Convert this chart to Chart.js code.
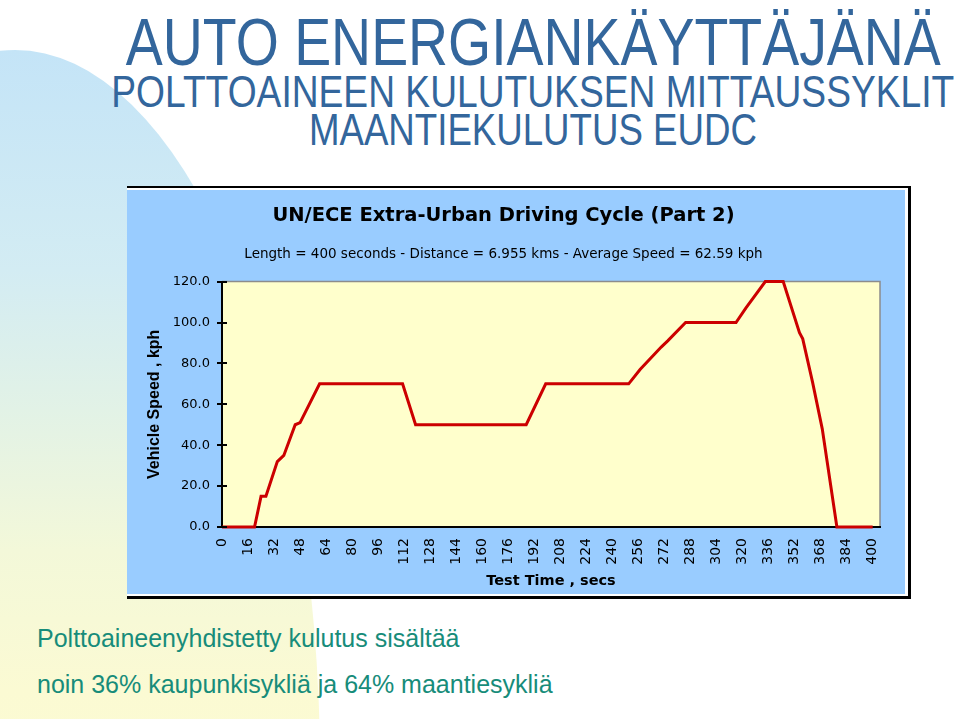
<!DOCTYPE html>
<html>
<head>
<meta charset="utf-8">
<script src="https://cdn.jsdelivr.net/npm/chart.js@4.4.1/dist/chart.umd.min.js"></script>
<style>
  html, body { margin: 0; padding: 0; }
  body { width: 959px; height: 719px; position: relative; overflow: hidden; background: #fff; }
  .blob {
    position: absolute; left: -290px; top: 50px; width: 610px; height: 1436px;
    border-radius: 50%;
    background: linear-gradient(to bottom, #c4e4f7 0px, #d3ecf3 220px, #e2f2e6 360px, #f3f8d9 500px, #fbfad3 640px, #fcfbd2 720px);
  }
  /* wide box centred on x = 533 so long lines do not overflow to one side */
  .head {
    position: absolute; left: -467px; width: 2000px; text-align: center;
    font-family: "Liberation Sans", Arial, sans-serif; color: #33669c;
    line-height: 1; white-space: nowrap;
  }
  .head span { display: inline-block; transform-origin: 50% 50%; }
  .note {
    position: absolute; left: 37px; white-space: nowrap;
    font-family: "Liberation Sans", Arial, sans-serif; font-size: 25px; line-height: 1;
    color: #178c7a;
  }
  .frame {
    position: absolute; left: 127px; top: 186px;
    border-top: 2px solid #000; border-right: 3px solid #000; border-bottom: 3px solid #000;
    padding: 2px 3px 2px 0; background: #fff;
  }
  #speedChart { display: block; background: #99ccff; }
</style>
</head>
<body>
<div class="blob"></div>

<div class="head" style="top:9px;font-size:66px"><span data-w="815">AUTO ENERGIANKÄYTTÄJÄNÄ</span></div>
<div class="head" style="top:70px;font-size:44px"><span data-w="843">POLTTOAINEEN KULUTUKSEN MITTAUSSYKLIT</span></div>
<div class="head" style="top:108px;font-size:44px"><span data-w="448">MAANTIEKULUTUS EUDC</span></div>

<div class="frame"><canvas id="speedChart" width="778" height="404"></canvas></div>

<div class="note" style="top:626px">Polttoaineenyhdistetty kulutus sisältää</div>
<div class="note" style="top:672px">noin 36% kaupunkisykliä ja 64% maantiesykliä</div>

<script>
// EUDC speed trace (seconds, km/h)
const TIME_S    = [0, 20, 24, 27, 34, 38, 45, 48, 60, 111, 119, 187, 199, 250, 257, 270, 274, 285, 316, 322, 334, 345, 355, 357, 363, 369, 372, 378, 400];
const SPEED_KPH = [0,  0, 15, 15, 32, 35, 50, 51, 70,  70,  50,  50,  70,  70,  77,  88,  91, 100, 100, 107, 120, 120,  95,  92,  71,  48,  32,   0,   0];

const X_TICKS = [0, 16, 32, 48, 64, 80, 96, 112, 128, 144, 160, 176, 192, 208, 224, 240, 256, 272, 288, 304, 320, 336, 352, 368, 384, 400];
const Y_TICKS = [0, 20, 40, 60, 80, 100, 120];

const CHART_TITLE = 'UN/ECE Extra-Urban Driving Cycle (Part 2)';
const CHART_SUBTITLE = 'Length = 400 seconds - Distance = 6.955 kms - Average Speed = 62.59 kph';
const X_TITLE = 'Test Time , secs';
const Y_TITLE = 'Vehicle Speed , kph';

// squeeze the big headings to the width they have on the slide
document.querySelectorAll('.head span').forEach(el => {
    const w = el.getBoundingClientRect().width;
    el.style.transform = 'scaleX(' + (Number(el.dataset.w) / w) + ')';
});

// yellow plot area, grey frame on top/right, inner half of the y tick marks
const plotArea = {
    id: 'plotArea',
    beforeDraw(chart) {
        const {ctx, chartArea: a} = chart;
        ctx.save();
        ctx.fillStyle = '#ffffcc';
        ctx.fillRect(a.left, a.top, a.right - a.left, a.bottom - a.top);
        ctx.strokeStyle = '#8c8c8c';
        ctx.lineWidth = 1.5;
        ctx.beginPath();
        ctx.moveTo(a.left, a.top);
        ctx.lineTo(a.right, a.top);
        ctx.lineTo(a.right, a.bottom);
        ctx.stroke();
        ctx.restore();
    },
    afterDraw(chart) {
        const {ctx, chartArea: a} = chart;
        const y = chart.scales.y;
        ctx.save();
        ctx.strokeStyle = '#000';
        ctx.lineWidth = 2;
        y.ticks.forEach(t => {
            const py = Math.round(y.getPixelForValue(t.value));
            ctx.beginPath();
            ctx.moveTo(a.left, py);
            ctx.lineTo(a.left + 5, py);
            ctx.stroke();
        });
        ctx.restore();
    }
};

const ctx = document.getElementById('speedChart');
new Chart(ctx, {
    type: 'line',
    data: {
        datasets: [{
            data: TIME_S.map((t, i) => ({x: t, y: SPEED_KPH[i]})),
            borderColor: '#cc0000',
            borderWidth: 3,
            pointRadius: 0,
            tension: 0,
            fill: false,
            clip: 6
        }]
    },
    options: {
        responsive: false,
        animation: false,
        devicePixelRatio: 1,
        layout: {
            padding: {left: 0, right: 25, top: 0, bottom: 0}
        },
        plugins: {
            legend: {display: false},
            tooltip: {enabled: false},
            title: {
                display: true,
                text: CHART_TITLE,
                color: '#000',
                font: {family: 'DejaVu Sans', size: 19.5, weight: 'bold'},
                padding: {top: 14, bottom: 0}
            },
            subtitle: {
                display: true,
                text: CHART_SUBTITLE,
                color: '#000',
                font: {family: 'DejaVu Sans', size: 13.5},
                padding: {top: 19, bottom: 19}
            }
        },
        scales: {
            x: {
                type: 'linear',
                min: 0,
                max: 404.5,
                afterBuildTicks: (scale) => {
                    scale.ticks = X_TICKS.map(v => ({value: v}));
                },
                afterFit: (scale) => {
                    scale.height = 67;
                },
                grid: {display: true, drawOnChartArea: false, drawTicks: false},
                border: {display: true, color: '#000', width: 2},
                ticks: {
                    autoSkip: false,
                    minRotation: 90,
                    maxRotation: 90,
                    padding: 11,
                    color: '#000',
                    font: {family: 'DejaVu Sans', size: 14},
                    callback: (v) => String(v)
                },
                title: {
                    display: true,
                    text: X_TITLE,
                    color: '#000',
                    font: {family: 'DejaVu Sans', size: 14.5, weight: 'bold'},
                    padding: {top: 0, bottom: 4}
                }
            },
            y: {
                min: 0,
                max: 120,
                afterBuildTicks: (scale) => {
                    scale.ticks = Y_TICKS.map(v => ({value: v}));
                },
                afterFit: (scale) => {
                    scale.width = 95;
                },
                grid: {display: true, drawOnChartArea: false, drawTicks: true, tickLength: 5, color: '#000', lineWidth: 2},
                border: {display: true, color: '#000', width: 2},
                ticks: {
                    padding: 7,
                    color: '#000',
                    font: {family: 'DejaVu Sans', size: 13},
                    callback: (v) => Number(v).toFixed(1)
                },
                title: {
                    display: true,
                    text: Y_TITLE,
                    color: '#000',
                    font: {family: 'Liberation Sans', size: 16, weight: 'bold'},
                    padding: {top: 18, bottom: 0}
                }
            }
        }
    },
    plugins: [plotArea]
});
</script>
</body>
</html>
